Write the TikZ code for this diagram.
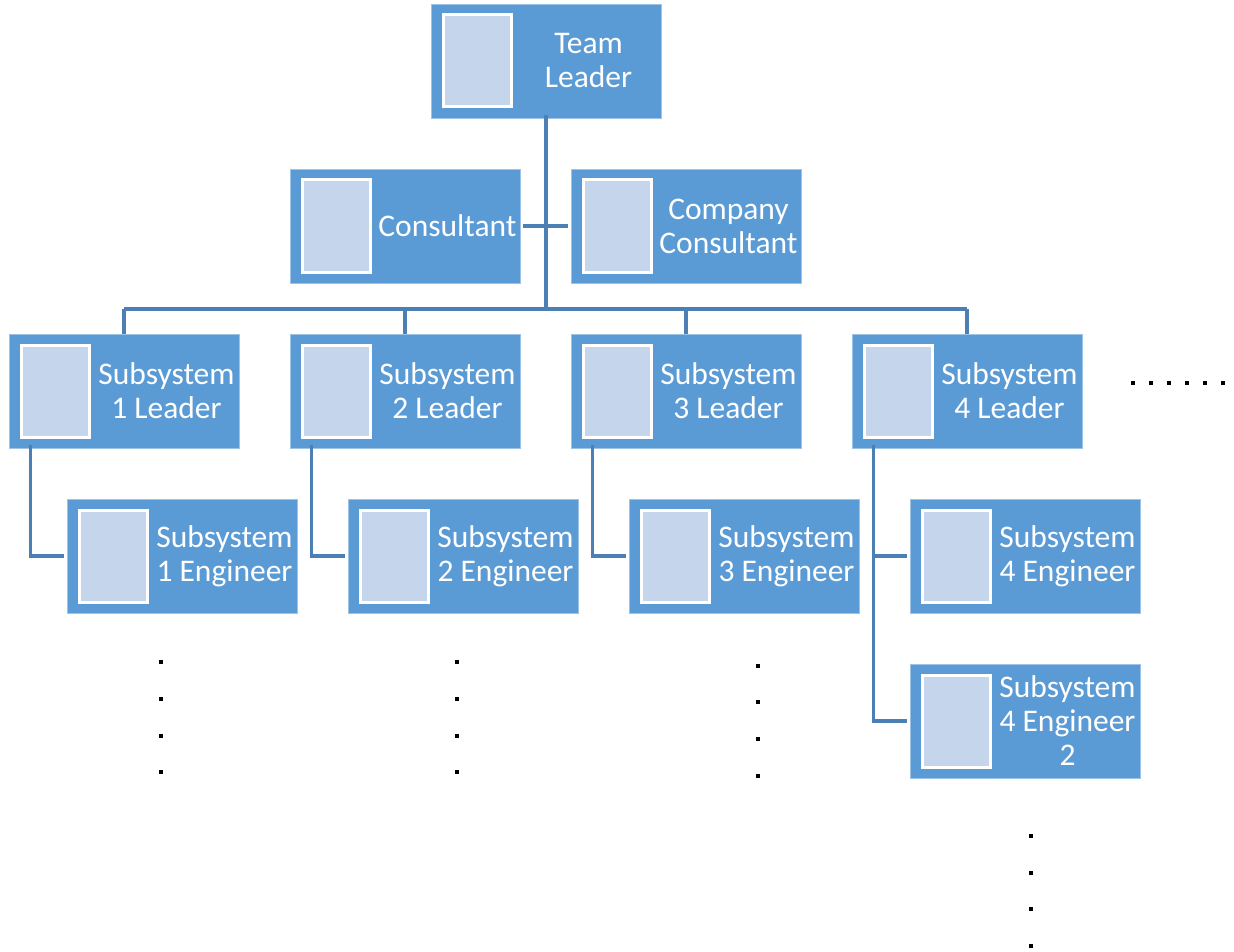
\documentclass[tikz,border=0pt]{standalone}
\usepackage{fontspec}
\setmainfont{Carlito}
\usetikzlibrary{positioning}

\definecolor{boxblue}{HTML}{5B9BD5}
\definecolor{photoblue}{HTML}{C5D5EB}
\definecolor{linkblue}{HTML}{4C7FB4}

\tikzset{
  memberbox/.style={rectangle, fill=boxblue, draw=boxblue!60!white, line width=0.8pt,
    minimum width=230pt, minimum height=114pt, inner sep=0pt},
  photo/.style={rectangle, fill=photoblue, draw=white, line width=3pt,
    minimum width=68pt, minimum height=92pt, inner sep=0pt, anchor=west},
  membertext/.style={text=white, align=center, inner sep=0pt,
    font=\fontsize{31.5}{34}\selectfont},
  link/.style={draw=linkblue, line width=3.2pt},
  dotmark/.style={fill=black}
}

% box with photo placeholder and name
\newcommand{\member}[3]{%
  \node[memberbox] (#1) at (#2) {};
  \node[photo] (#1-photo) at ([xshift=11.5pt]#1.west) {};
  \node[membertext] (#1-text) at ([xshift=42.5pt]#1.center) {#3};
}

\begin{document}
\begin{tikzpicture}[x=1pt, y=-1pt]

\useasboundingbox (0,0) rectangle (1234,952);

\member{lead}{546,61}{Team\\Leader}
\member{cons}{405,226}{Consultant}
\member{ccons}{686,226}{Company\\Consultant}

\member{sl1}{124,391}{Subsystem\\1 Leader}
\member{sl2}{405,391}{Subsystem\\2 Leader}
\member{sl3}{686,391}{Subsystem\\3 Leader}
\member{sl4}{967,391}{Subsystem\\4 Leader}

\member{se1}{182,556}{Subsystem\\1 Engineer}
\member{se2}{463,556}{Subsystem\\2 Engineer}
\member{se3}{744,556}{Subsystem\\3 Engineer}
\member{se4}{1025,556}{Subsystem\\4 Engineer}
\member{se4b}{1025,721}{Subsystem\\4 Engineer\\2}

\coordinate (bus) at (546,309);

% links
\draw[link] ([yshift=3pt]lead.south) -- (bus);
\draw[link] ([xshift=3pt]cons.east) -- ([xshift=-3pt]ccons.west);
\draw[link] (sl1 |- bus) -- (sl4 |- bus);
\foreach \n in {sl1,sl2,sl3,sl4}
  \draw[link] (\n.north) -- (\n |- bus);

\foreach \a/\b in {sl1/se1,sl2/se2,sl3/se3,sl4/se4}
  \draw[link] ([xshift=22pt,yshift=3pt]\a.south west) |- ([xshift=-3pt]\b.west);
\draw[link] ([xshift=22pt,yshift=3pt]sl4.south west) |- ([xshift=-3pt]se4b.west);

% dots
\foreach \x in {1133,1151,1169,1187,1205,1223}
  \fill[dotmark] (\x-2,381) rectangle ++(4,4);
\foreach \y in {662,699,736,772} {
  \fill[dotmark] (159,\y-2) rectangle ++(4,4);
  \fill[dotmark] (455,\y-2) rectangle ++(4,4);
}
\foreach \y in {666,702,739,776}
  \fill[dotmark] (756,\y-2) rectangle ++(4,4);
\foreach \y in {836,873,909,946}
  \fill[dotmark] (1029,\y-2) rectangle ++(4,4);

\end{tikzpicture}
\end{document}
